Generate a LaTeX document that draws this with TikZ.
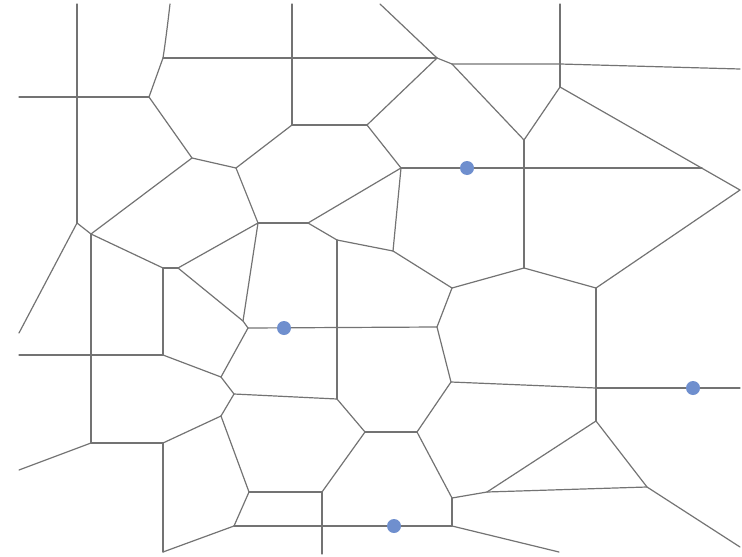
\documentclass[tikz,border=0pt]{standalone}
\begin{document}
\begin{tikzpicture}[x=1pt,y=-1pt,
  edge/.style={draw=black!55,line width=1.2pt,line cap=round,line join=round},
  site/.style={circle,fill=sitecol,inner sep=0pt,minimum size=14pt}]
\definecolor{sitecol}{RGB}{111,143,206}
\useasboundingbox (0,0) rectangle (742,557);
% boundary ends
\coordinate (t1) at (77,4);
\coordinate (t2) at (170,4);
\coordinate (t3) at (292,4);
\coordinate (t4) at (380,4);
\coordinate (t5) at (560,4);
\coordinate (l1) at (19,97);
\coordinate (l2) at (19,333);
\coordinate (l3) at (19,355);
\coordinate (l4) at (19,470);
\coordinate (r1) at (740,69);
\coordinate (r2) at (740,388);
\coordinate (r3) at (740,547);
\coordinate (b1) at (163,552);
\coordinate (b2) at (322,554);
\coordinate (b3) at (559,552);
% vertices
\coordinate (b) at (163,58);
\coordinate (c) at (149,97);
\coordinate (d) at (437,58);
\coordinate (e) at (452,64);
\coordinate (f) at (560,64);
\coordinate (g) at (560,87);
\coordinate (h) at (524,140);
\coordinate (j) at (292,125);
\coordinate (k) at (367,125);
\coordinate (m) at (192,158);
\coordinate (n) at (236,168);
\coordinate (o) at (401,168);
\coordinate (p) at (702,168);
\coordinate (q) at (740,190);
\coordinate (s) at (77,223);
\coordinate (u) at (91,234);
\coordinate (v) at (258,223);
\coordinate (w) at (308,223);
\coordinate (x0) at (337,240);
\coordinate (y0) at (393,251);
\coordinate (z) at (163,268);
\coordinate (aa) at (178,268);
\coordinate (ab) at (452,288);
\coordinate (ac) at (524,268);
\coordinate (ad) at (596,288);
\coordinate (ae) at (243,321);
\coordinate (af) at (248,328);
\coordinate (ag) at (437,327);
\coordinate (ah) at (163,355);
\coordinate (ai) at (221,377);
\coordinate (aj) at (234,394);
\coordinate (ak) at (337,399);
\coordinate (al) at (451,382);
\coordinate (am) at (596,388);
\coordinate (an) at (221,416);
\coordinate (ao) at (365,432);
\coordinate (ap) at (417,432);
\coordinate (aq) at (596,421);
\coordinate (ar) at (91,443);
\coordinate (as) at (163,443);
\coordinate (at) at (249,492);
\coordinate (au) at (322,492);
\coordinate (av) at (452,498);
\coordinate (aw) at (487,492);
\coordinate (ax) at (647,487);
\coordinate (ay) at (234,526);
\coordinate (az) at (452,526);
% edges
\draw[edge] (t1) -- (s);
\draw[edge] (l1) -- (c);
\draw[edge] (t2) .. controls (167,30) and (165,45) .. (b);
\draw[edge] (b) -- (c);
\draw[edge] (b) -- (d);
\draw[edge] (t3) -- (j);
\draw[edge] (t4) -- (d);
\draw[edge] (d) -- (e);
\draw[edge] (e) -- (f) -- (r1);
\draw[edge] (t5) -- (g);
\draw[edge] (g) -- (h);
\draw[edge] (e) -- (h);
\draw[edge] (h) -- (ac);
\draw[edge] (g) -- (q);
\draw[edge] (q) -- (ad);
\draw[edge] (d) -- (k);
\draw[edge] (j) -- (k);
\draw[edge] (j) -- (n);
\draw[edge] (k) -- (o);
\draw[edge] (o) -- (p);
\draw[edge] (o) -- (y0);
\draw[edge] (o) -- (w);
\draw[edge] (c) -- (m);
\draw[edge] (m) -- (n);
\draw[edge] (m) -- (u);
\draw[edge] (n) -- (v);
\draw[edge] (s) -- (u);
\draw[edge] (s) -- (l2);
\draw[edge] (u) -- (ar);
\draw[edge] (u) -- (z);
\draw[edge] (z) -- (aa);
\draw[edge] (z) -- (ah);
\draw[edge] (l3) -- (ah);
\draw[edge] (aa) -- (v);
\draw[edge] (aa) -- (ae);
\draw[edge] (v) -- (ae);
\draw[edge] (v) -- (w);
\draw[edge] (w) -- (x0);
\draw[edge] (x0) -- (ak);
\draw[edge] (x0) -- (y0);
\draw[edge] (y0) -- (ab);
\draw[edge] (ab) -- (ac);
\draw[edge] (ac) -- (ad);
\draw[edge] (ab) -- (ag);
\draw[edge] (ae) -- (af);
\draw[edge] (af) -- (ag);
\draw[edge] (af) -- (ai);
\draw[edge] (ah) -- (ai);
\draw[edge] (ai) -- (aj);
\draw[edge] (aj) -- (ak);
\draw[edge] (ak) -- (ao);
\draw[edge] (ao) -- (ap);
\draw[edge] (ap) -- (al);
\draw[edge] (al) -- (ag);
\draw[edge] (al) -- (am);
\draw[edge] (am) -- (r2);
\draw[edge] (ad) -- (aq);
\draw[edge] (aj) -- (an);
\draw[edge] (an) -- (as);
\draw[edge] (ar) -- (as);
\draw[edge] (ar) -- (l4);
\draw[edge] (as) -- (b1);
\draw[edge] (b1) -- (ay);
\draw[edge] (an) -- (at);
\draw[edge] (at) -- (au);
\draw[edge] (at) -- (ay);
\draw[edge] (au) -- (ao);
\draw[edge] (au) -- (b2);
\draw[edge] (ay) -- (az);
\draw[edge] (ap) -- (av);
\draw[edge] (av) -- (az);
\draw[edge] (av) -- (aw);
\draw[edge] (aw) -- (aq);
\draw[edge] (aw) -- (ax);
\draw[edge] (aq) -- (ax);
\draw[edge] (ax) -- (r3);
\draw[edge] (az) -- (b3);
% sites
\node[site] (s1) at (467,168) {};
\node[site] (s2) at (284,328) {};
\node[site] (s3) at (693,388) {};
\node[site] (s4) at (394,526) {};
\end{tikzpicture}
\end{document}
